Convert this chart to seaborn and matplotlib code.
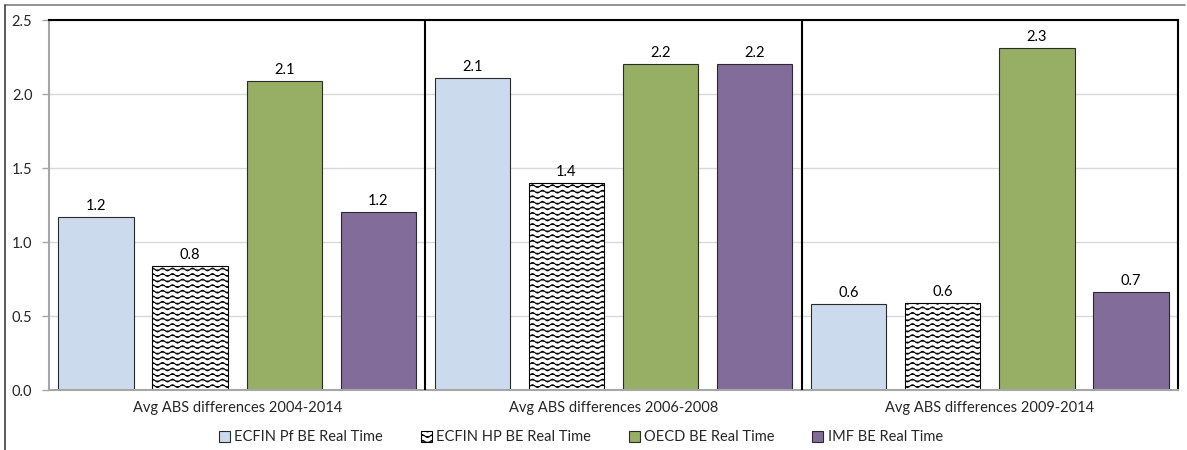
import warnings
import numpy as np
import pandas as pd
import seaborn as sns
import matplotlib.pyplot as plt
import matplotlib.hatch as mhatch
from matplotlib.path import Path
from matplotlib.lines import Line2D

warnings.filterwarnings("ignore")

categories = ["Avg ABS differences 2004-2014", "Avg ABS differences 2006-2008", "Avg ABS differences 2009-2014"]
series = ["ECFIN Pf BE Real Time", "ECFIN HP BE Real Time", "OECD BE Real Time", "IMF BE Real Time"]
ecfin_pf = [1.17, 2.11, 0.58]
ecfin_hp = [0.84, 1.40, 0.59]
oecd = [2.09, 2.20, 2.31]
imf = [1.20, 2.20, 0.66]

colors = ["#C6D9F1", "#FFFFFF", "#9BBB59", "#8064A2"]


# wavy hatch like the excel "wave" pattern
class WaveHatch(mhatch.HatchPatternBase):
    n_per = 10
    n_pts = 81

    def __init__(self, hatch, density):
        self.num_lines = int(hatch.count('~') * density)
        self.num_vertices = self.num_lines * self.n_pts

    def set_vertices_and_codes(self, vertices, codes):
        xs = np.linspace(0, 1, self.n_pts)
        wave = 0.014 * np.sin(2 * np.pi * self.n_per * xs)
        k = 0
        step = 1.0 / self.num_lines
        for y in np.arange(self.num_lines) * step + step / 2:
            vertices[k:k + self.n_pts, 0] = xs
            vertices[k:k + self.n_pts, 1] = y + wave
            codes[k] = Path.MOVETO
            codes[k + 1:k + self.n_pts] = Path.LINETO
            k += self.n_pts


mhatch._hatch_types.append(WaveHatch)

df = pd.DataFrame({
    "category": np.repeat(categories, 4),
    "series": series * 3,
    "value": np.array([ecfin_pf, ecfin_hp, oecd, imf]).T.ravel(),
})

sns.set_style("white")
plt.rcParams['font.family'] = ['Lato', 'DejaVu Sans']
plt.rcParams['hatch.linewidth'] = 0.75

fig = plt.figure(figsize=(11.87, 4.5), dpi=100)
ax = fig.add_axes([49 / 1187, 1 - 390 / 450, (1178 - 49) / 1187, (390 - 20) / 450])

sns.barplot(data=df, x="category", y="value", hue="series", hue_order=series,
            palette=colors, width=1.0, gap=0.2, edgecolor="#2b2b2b", linewidth=0.8,
            legend=False, ax=ax)

for bar in ax.containers[1]:
    bar.set_hatch("~~~")
    bar.set_edgecolor("black")

for cont in ax.containers:
    ax.bar_label(cont, fmt="%.1f", padding=3, fontsize=10.5, color="black")

ax.set_ylim(0, 2.5)
ax.set_yticks(np.arange(0, 2.51, 0.5))
ax.set_yticklabels(["%.1f" % v for v in np.arange(0, 2.51, 0.5)], fontsize=10.5)
ax.set_xlim(-0.5, 2.5)
ax.tick_params(axis="x", length=0, labelsize=10.5, pad=8)
ax.set_xticks(np.arange(-0.5, 3, 1), minor=True)
ax.tick_params(axis="x", which="minor", length=5, color="#bfbfbf", width=1)
ax.tick_params(axis="y", length=5, color="#a6a6a6", width=1, left=True, pad=7)
ax.set_xlabel("")
ax.set_ylabel("")
ax.yaxis.grid(True, color="#d9d9d9", linewidth=1)
ax.set_axisbelow(True)

ax.spines["left"].set_color("#a6a6a6")
ax.spines["left"].set_linewidth(1.5)
ax.spines["bottom"].set_color("#a6a6a6")
ax.spines["bottom"].set_linewidth(1.5)
ax.spines["top"].set_color("black")
ax.spines["top"].set_linewidth(1.5)
ax.spines["right"].set_color("black")
ax.spines["right"].set_linewidth(1.5)
for xb in [0.5, 1.5]:
    ax.axvline(xb, color="black", linewidth=1.5, zorder=3)

leg = ax.legend(ax.containers, series, loc="center", bbox_to_anchor=(0.471, -0.128),
                ncol=4, frameon=False, fontsize=10.5, handlelength=0.75, handleheight=0.75,
                handletextpad=0.3, columnspacing=2.6)

# chart frame
fig.add_artist(Line2D([5 / 1187, 1185 / 1187], [1 - 5 / 450, 1 - 5 / 450], color="#7f7f7f", lw=1.2))
fig.add_artist(Line2D([5 / 1187, 5 / 1187], [0, 1 - 5 / 450], color="#404040", lw=1.2))

fig.savefig("out.png", dpi=100)
